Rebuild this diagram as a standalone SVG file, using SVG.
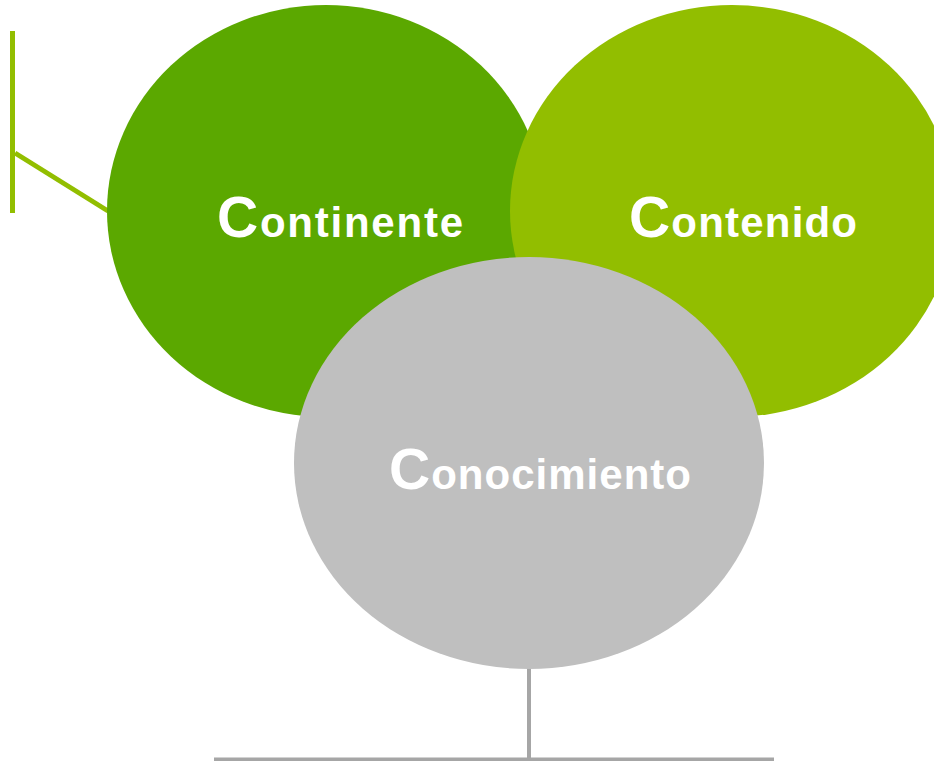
<svg xmlns="http://www.w3.org/2000/svg" width="934" height="761" viewBox="0 0 934 761">
<style>
.lbl{font-family:"Liberation Sans",Arial,sans-serif;font-weight:bold;fill:#FFFFFF;}
.big{font-size:57px;}
.sm{font-size:42px;}
.g{stroke:#92BE00;stroke-width:5;fill:none;}
.k{stroke:#A6A6A6;stroke-width:4;fill:none;}
</style>
<rect width="934" height="761" fill="#FFFFFF"/>
<g id="connectors">
<line class="g" x1="12.5" y1="31" x2="12.5" y2="213"/>
<line class="g" x1="15" y1="153" x2="108" y2="211" stroke-width="4"/>
<line class="k" x1="529" y1="668" x2="529" y2="760" stroke-width="5"/>
<line class="k" x1="214" y1="759.5" x2="774" y2="759.5"/>
</g>
<g id="continente">
<ellipse cx="326" cy="211" rx="219" ry="206" fill="#5BA800"/>
<text class="lbl" x="217" y="237" textLength="246" lengthAdjust="spacing"><tspan class="big">C</tspan><tspan class="sm">ontinente</tspan></text>
</g>
<g id="contenido">
<ellipse cx="732" cy="211" rx="222" ry="206" fill="#92BE00"/>
<text class="lbl" x="629" y="237" textLength="228" lengthAdjust="spacing"><tspan class="big">C</tspan><tspan class="sm">ontenido</tspan></text>
</g>
<g id="conocimiento">
<ellipse cx="529" cy="463" rx="235" ry="206" fill="#BFBFBF"/>
<text class="lbl" x="389" y="489" textLength="302" lengthAdjust="spacing"><tspan class="big">C</tspan><tspan class="sm">onocimiento</tspan></text>
</g>
</svg>
